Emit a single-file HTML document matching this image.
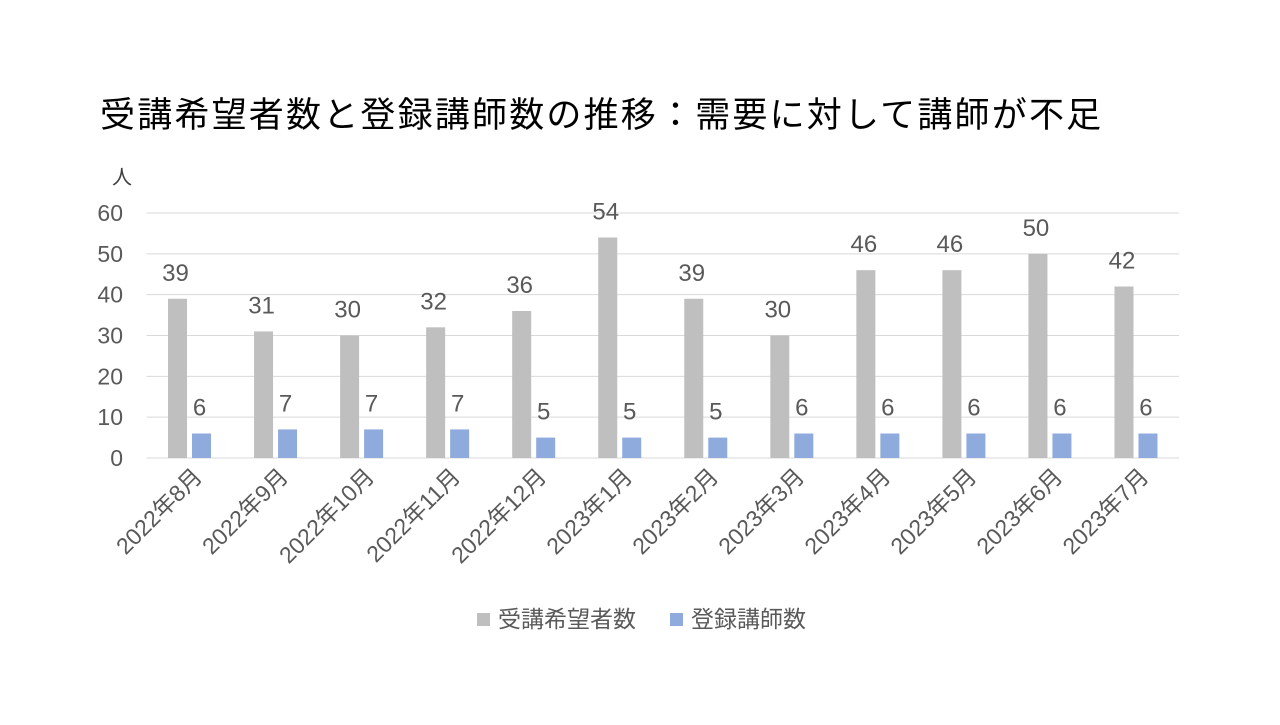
<!DOCTYPE html>
<html><head><meta charset="utf-8"><style>
body{margin:0;background:#fff;}
svg text{font-family:"Liberation Sans","Noto Sans CJK JP",sans-serif;}
</style></head><body>
<svg width="1280" height="720" xmlns="http://www.w3.org/2000/svg">
<text x="100" y="127" font-size="35" letter-spacing="2.2" fill="#000">受講希望者数と登録講師数の推移：需要に対して講師が不足</text>
<text x="112" y="184" font-size="20" fill="#404040">人</text>
<g id="grid"></g><g id="bars"></g><g id="labels"></g>
<g>
<rect x="477" y="613" width="13" height="13" fill="#bfbfbf"/>
<text x="498" y="627" font-size="23" fill="#595959">受講希望者数</text>
<rect x="670" y="613" width="13" height="13" fill="#8faadc"/>
<text x="691" y="627" font-size="23" fill="#595959">登録講師数</text>
</g>
</svg>
<script>
const categories=["2022年8月","2022年9月","2022年10月","2022年11月","2022年12月","2023年1月","2023年2月","2023年3月","2023年4月","2023年5月","2023年6月","2023年7月"];
const applicants=[39,31,30,32,36,54,39,30,46,46,50,42];
const instructors=[6,7,7,7,5,5,5,6,6,6,6,6];
const yTicks=[0,10,20,30,40,50,60];
const NS="http://www.w3.org/2000/svg";
const L=146.5,R=1179,T=213,B=458,yMax=60;
const step=(R-L)/categories.length;
const y=v=>B-(v/yMax)*(B-T);
const xc=i=>L+step*(i+0.5);
function mk(tag,attrs,parent,text){const e=document.createElementNS(NS,tag);for(const k in attrs)e.setAttribute(k,attrs[k]);if(text!=null)e.textContent=text;parent.appendChild(e);return e;}
const grid=document.getElementById('grid'),bars=document.getElementById('bars'),labels=document.getElementById('labels');
yTicks.forEach(t=>{
 const ln=mk('line',{x1:L,x2:R,y1:y(t),y2:y(t),stroke:'#d9d9d9','stroke-width':1},grid);
 
 
 const tx=mk('text',{x:123,y:y(t)+8,'font-size':23,fill:'#595959','text-anchor':'end'},grid,String(t));
 
 
});
const bw=19,gap=5;
categories.forEach((c,i)=>{
 const cx=xc(i);
 const gx=cx-gap/2-bw, bx=cx+gap/2;
 const r1=mk('rect',{x:gx,y:y(applicants[i]),width:bw,height:B-y(applicants[i]),fill:'#bfbfbf'},bars);
 
 
 const r2=mk('rect',{x:bx,y:y(instructors[i]),width:bw,height:B-y(instructors[i]),fill:'#8faadc'},bars);
 
 
 const t1=mk('text',{x:gx+bw/2-2,y:y(applicants[i])-18,'font-size':24,fill:'#595959','text-anchor':'middle'},labels,String(applicants[i]));
 
 
 const t2=mk('text',{x:bx+bw/2-2,y:y(instructors[i])-18,'font-size':24,fill:'#595959','text-anchor':'middle'},labels,String(instructors[i]));
 
 
 const xl=mk('text',{x:0,y:0,'font-size':23,fill:'#595959','text-anchor':'end',transform:'translate('+(cx+14)+',478) rotate(-45)'},labels,c);
 
 
});
mk('line',{x1:L,x2:R,y1:B,y2:B,stroke:'#d9d9d9','stroke-width':1},grid);
</script>
</body></html>
